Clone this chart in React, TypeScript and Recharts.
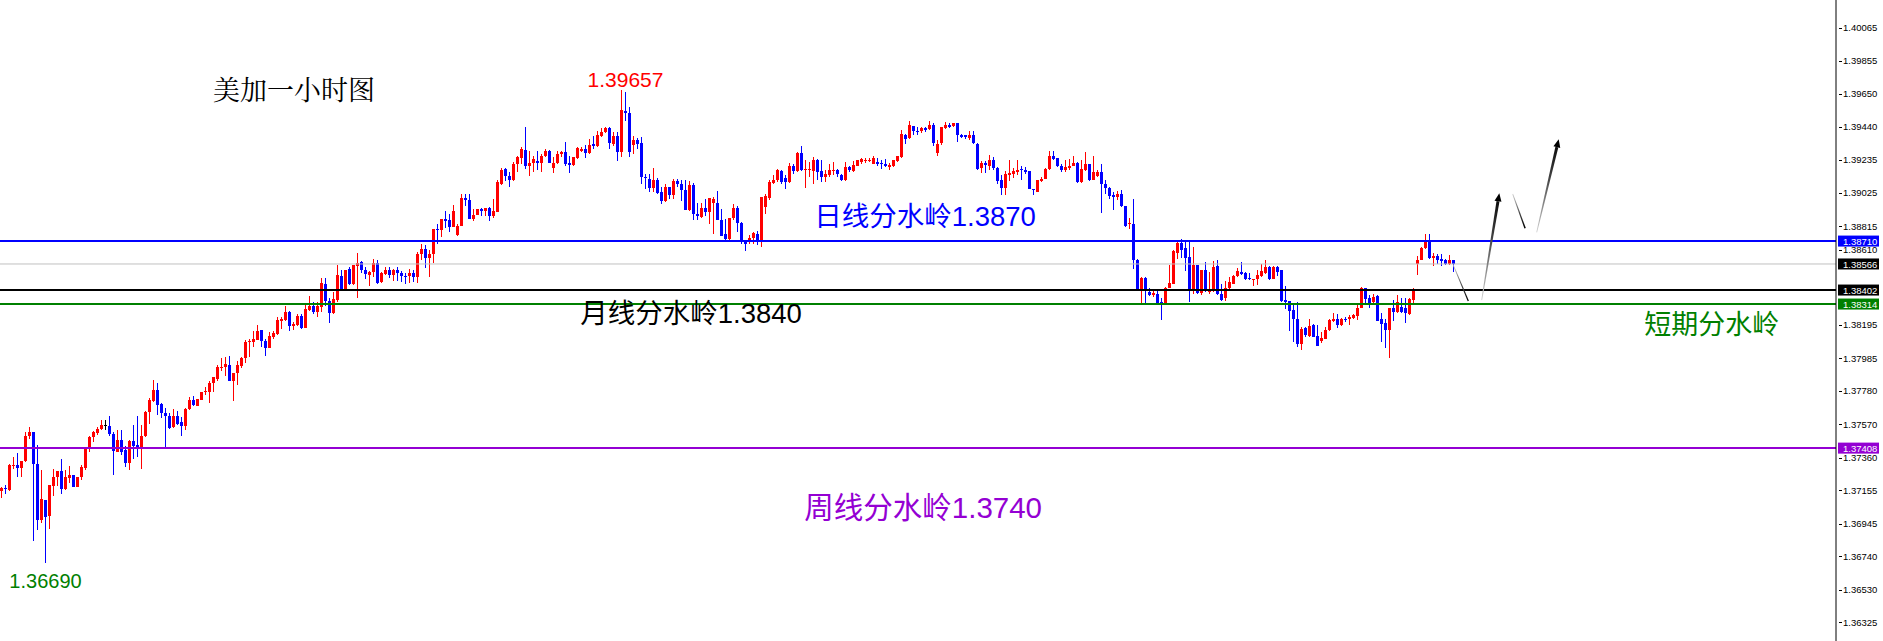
import { ComposedChart, Bar, XAxis, YAxis, ReferenceLine, ReferenceDot } from "recharts";

// USDCAD 1h candles (open / high / low / close)
const opens = [
  1.37139, 1.37158, 1.37143, 1.37298, 1.37304, 1.37281, 1.37329, 1.37482, 1.37509, 1.37308,
  1.36955, 1.37079, 1.36980, 1.37169, 1.37225, 1.37267, 1.37152, 1.37221, 1.37242, 1.37164,
  1.37225, 1.37286, 1.37409, 1.37478, 1.37503, 1.37528, 1.37553, 1.37549, 1.37499, 1.37386,
  1.37461, 1.37394, 1.37315, 1.37455, 1.37430, 1.37402, 1.37482, 1.37632, 1.37706, 1.37774,
  1.37687, 1.37628, 1.37611, 1.37538, 1.37607, 1.37570, 1.37545, 1.37653, 1.37712, 1.37674,
  1.37712, 1.37758, 1.37764, 1.37816, 1.37843, 1.37915, 1.37915, 1.37931, 1.37827, 1.37879,
  1.37927, 1.37973, 1.38073, 1.38077, 1.38088, 1.38151, 1.38084, 1.38040, 1.38105, 1.38125,
  1.38209, 1.38213, 1.38266, 1.38178, 1.38182, 1.38240, 1.38165, 1.38276, 1.38301, 1.38266,
  1.38293, 1.38443, 1.38335, 1.38255, 1.38339, 1.38491, 1.38408, 1.38533, 1.38439, 1.38552,
  1.38577, 1.38527, 1.38495, 1.38516, 1.38569, 1.38454, 1.38506, 1.38531, 1.38495, 1.38531,
  1.38512, 1.38493, 1.38491, 1.38512, 1.38485, 1.38627, 1.38663, 1.38604, 1.38627, 1.38788,
  1.38782, 1.38847, 1.38840, 1.38799, 1.38746, 1.38803, 1.38982, 1.38970, 1.38847, 1.38872,
  1.38909, 1.38899, 1.38920, 1.38865, 1.38892, 1.39066, 1.39164, 1.39118, 1.39091, 1.39196,
  1.39233, 1.39285, 1.39179, 1.39200, 1.39216, 1.39200, 1.39248, 1.39279, 1.39170, 1.39200,
  1.39258, 1.39269, 1.39200, 1.39189, 1.39233, 1.39279, 1.39290, 1.39262, 1.39321, 1.39310,
  1.39373, 1.39394, 1.39419, 1.39321, 1.39373, 1.39269, 1.39530, 1.39515, 1.39317, 1.39348,
  1.39325, 1.39116, 1.39101, 1.39043, 1.39097, 1.39018, 1.38961, 1.39053, 1.38997, 1.39085,
  1.39070, 1.39032, 1.38903, 1.39064, 1.38878, 1.38861, 1.38918, 1.38892, 1.38949, 1.38951,
  1.38844, 1.38752, 1.38721, 1.38855, 1.38918, 1.38824, 1.38705, 1.38705, 1.38732, 1.38757,
  1.38705, 1.38924, 1.38983, 1.39075, 1.39091, 1.39150, 1.39108, 1.39081, 1.39185, 1.39150,
  1.39265, 1.39158, 1.39154, 1.39150, 1.39221, 1.39148, 1.39112, 1.39123, 1.39150, 1.39158,
  1.39123, 1.39091, 1.39175, 1.39150, 1.39185, 1.39206, 1.39217, 1.39217, 1.39196, 1.39206,
  1.39202, 1.39196, 1.39175, 1.39185, 1.39213, 1.39238, 1.39378, 1.39357, 1.39432, 1.39405,
  1.39401, 1.39422, 1.39415, 1.39443, 1.39263, 1.39326, 1.39422, 1.39443, 1.39436, 1.39451,
  1.39378, 1.39374, 1.39359, 1.39374, 1.39321, 1.39169, 1.39200, 1.39185, 1.39217, 1.39171,
  1.39091, 1.39043, 1.39127, 1.39133, 1.39143, 1.39164, 1.39160, 1.39148, 1.39039, 1.39018,
  1.39087, 1.39102, 1.39164, 1.39242, 1.39231, 1.39185, 1.39154, 1.39171, 1.39181, 1.39202,
  1.39081, 1.39154, 1.39192, 1.39095, 1.39118, 1.39143, 1.39070, 1.39045, 1.38997, 1.38987,
  1.39008, 1.38928, 1.38820, 1.38820, 1.38594, 1.38408, 1.38479, 1.38391, 1.38374, 1.38376,
  1.38324, 1.38314, 1.38416, 1.38443, 1.38636, 1.38700, 1.38667, 1.38611, 1.38395, 1.38558,
  1.38381, 1.38527, 1.38391, 1.38402, 1.38552, 1.38376, 1.38355, 1.38412, 1.38443, 1.38489,
  1.38516, 1.38510, 1.38478, 1.38470, 1.38470, 1.38491, 1.38510, 1.38547, 1.38470, 1.38547,
  1.38527, 1.38338, 1.38332, 1.38276, 1.38219, 1.38063, 1.38161, 1.38113, 1.38182, 1.38113,
  1.38081, 1.38094, 1.38150, 1.38209, 1.38223, 1.38182, 1.38223, 1.38217, 1.38228, 1.38240,
  1.38286, 1.38418, 1.38349, 1.38328, 1.38363, 1.38219, 1.38192, 1.38150, 1.38292, 1.38265,
  1.38297, 1.38286, 1.38249, 1.38338, 1.38568, 1.38593, 1.38669, 1.38710, 1.38606, 1.38614,
  1.38595, 1.38593, 1.38568, 1.38589,
];

const highs = [
  1.37164, 1.37175, 1.37311, 1.37352, 1.37377, 1.37329, 1.37507, 1.37538, 1.37509, 1.37430,
  1.37269, 1.37079, 1.37173, 1.37277, 1.37267, 1.37342, 1.37273, 1.37298, 1.37242, 1.37225,
  1.37304, 1.37415, 1.37486, 1.37513, 1.37540, 1.37582, 1.37586, 1.37607, 1.37507, 1.37524,
  1.37524, 1.37419, 1.37461, 1.37555, 1.37607, 1.37555, 1.37643, 1.37722, 1.37837, 1.37816,
  1.37691, 1.37660, 1.37628, 1.37653, 1.37639, 1.37603, 1.37660, 1.37729, 1.37733, 1.37716,
  1.37764, 1.37795, 1.37833, 1.37858, 1.37931, 1.37973, 1.37984, 1.37988, 1.37883, 1.37958,
  1.37979, 1.38088, 1.38092, 1.38146, 1.38182, 1.38151, 1.38092, 1.38140, 1.38146, 1.38230,
  1.38234, 1.38301, 1.38272, 1.38203, 1.38251, 1.38251, 1.38307, 1.38364, 1.38326, 1.38328,
  1.38475, 1.38475, 1.38355, 1.38391, 1.38558, 1.38527, 1.38531, 1.38544, 1.38558, 1.38638,
  1.38585, 1.38548, 1.38521, 1.38600, 1.38590, 1.38516, 1.38544, 1.38544, 1.38533, 1.38544,
  1.38521, 1.38510, 1.38537, 1.38527, 1.38642, 1.38690, 1.38688, 1.38652, 1.38788, 1.38819,
  1.38851, 1.38897, 1.38882, 1.38934, 1.38815, 1.39008, 1.39008, 1.39003, 1.38909, 1.38909,
  1.38920, 1.38916, 1.38924, 1.38976, 1.39091, 1.39168, 1.39170, 1.39143, 1.39206, 1.39248,
  1.39300, 1.39430, 1.39279, 1.39248, 1.39279, 1.39258, 1.39290, 1.39283, 1.39237, 1.39275,
  1.39279, 1.39336, 1.39248, 1.39241, 1.39300, 1.39300, 1.39315, 1.39352, 1.39373, 1.39405,
  1.39419, 1.39425, 1.39425, 1.39398, 1.39394, 1.39657, 1.39650, 1.39551, 1.39373, 1.39356,
  1.39363, 1.39133, 1.39133, 1.39168, 1.39106, 1.39053, 1.39066, 1.39053, 1.39099, 1.39099,
  1.39091, 1.39095, 1.39087, 1.39074, 1.38949, 1.38949, 1.38976, 1.38980, 1.38986, 1.39022,
  1.38913, 1.38851, 1.38855, 1.38941, 1.38928, 1.38830, 1.38719, 1.38747, 1.38767, 1.38772,
  1.38987, 1.39004, 1.39091, 1.39123, 1.39165, 1.39158, 1.39123, 1.39200, 1.39196, 1.39269,
  1.39311, 1.39217, 1.39206, 1.39238, 1.39227, 1.39221, 1.39158, 1.39196, 1.39206, 1.39165,
  1.39129, 1.39206, 1.39179, 1.39211, 1.39221, 1.39234, 1.39234, 1.39234, 1.39248, 1.39234,
  1.39217, 1.39227, 1.39200, 1.39221, 1.39248, 1.39409, 1.39384, 1.39468, 1.39436, 1.39426,
  1.39430, 1.39426, 1.39463, 1.39451, 1.39346, 1.39430, 1.39457, 1.39451, 1.39455, 1.39455,
  1.39384, 1.39378, 1.39405, 1.39405, 1.39326, 1.39212, 1.39212, 1.39254, 1.39238, 1.39175,
  1.39123, 1.39150, 1.39217, 1.39171, 1.39217, 1.39179, 1.39175, 1.39150, 1.39039, 1.39095,
  1.39116, 1.39171, 1.39275, 1.39279, 1.39233, 1.39192, 1.39217, 1.39227, 1.39248, 1.39206,
  1.39221, 1.39269, 1.39196, 1.39242, 1.39158, 1.39192, 1.39091, 1.39049, 1.39018, 1.39024,
  1.39033, 1.38930, 1.38857, 1.38976, 1.38600, 1.38481, 1.38485, 1.38412, 1.38402, 1.38406,
  1.38349, 1.38422, 1.38558, 1.38652, 1.38719, 1.38725, 1.38719, 1.38715, 1.38673, 1.38558,
  1.38531, 1.38579, 1.38517, 1.38585, 1.38590, 1.38439, 1.38460, 1.38481, 1.38495, 1.38541,
  1.38579, 1.38516, 1.38510, 1.38474, 1.38531, 1.38564, 1.38589, 1.38552, 1.38552, 1.38552,
  1.38527, 1.38428, 1.38332, 1.38307, 1.38328, 1.38171, 1.38167, 1.38223, 1.38186, 1.38182,
  1.38140, 1.38171, 1.38219, 1.38255, 1.38251, 1.38228, 1.38234, 1.38244, 1.38251, 1.38307,
  1.38422, 1.38418, 1.38370, 1.38376, 1.38370, 1.38259, 1.38223, 1.38292, 1.38338, 1.38370,
  1.38355, 1.38349, 1.38353, 1.38412, 1.38614, 1.38673, 1.38756, 1.38752, 1.38635, 1.38627,
  1.38627, 1.38600, 1.38621, 1.38593,
];

const lows = [
  1.37095, 1.37120, 1.37137, 1.37277, 1.37227, 1.37227, 1.37319, 1.37465, 1.36823, 1.36890,
  1.36938, 1.36688, 1.36901, 1.37106, 1.37169, 1.37122, 1.37143, 1.37189, 1.37164, 1.37164,
  1.37210, 1.37273, 1.37381, 1.37446, 1.37492, 1.37524, 1.37520, 1.37486, 1.37237, 1.37381,
  1.37367, 1.37288, 1.37269, 1.37342, 1.37352, 1.37279, 1.37478, 1.37561, 1.37697, 1.37614,
  1.37597, 1.37405, 1.37530, 1.37534, 1.37555, 1.37482, 1.37524, 1.37645, 1.37670, 1.37670,
  1.37712, 1.37739, 1.37691, 1.37764, 1.37827, 1.37894, 1.37862, 1.37827, 1.37705, 1.37802,
  1.37910, 1.37946, 1.37979, 1.38042, 1.38088, 1.38046, 1.37988, 1.38040, 1.38092, 1.38119,
  1.38157, 1.38209, 1.38146, 1.38151, 1.38176, 1.38157, 1.38161, 1.38272, 1.38249, 1.38234,
  1.38261, 1.38303, 1.38192, 1.38251, 1.38324, 1.38401, 1.38408, 1.38433, 1.38433, 1.38349,
  1.38510, 1.38470, 1.38426, 1.38481, 1.38443, 1.38447, 1.38495, 1.38479, 1.38460, 1.38460,
  1.38454, 1.38443, 1.38447, 1.38454, 1.38447, 1.38590, 1.38541, 1.38485, 1.38573, 1.38694,
  1.38736, 1.38794, 1.38767, 1.38799, 1.38740, 1.38803, 1.38928, 1.38847, 1.38834, 1.38872,
  1.38865, 1.38865, 1.38834, 1.38857, 1.38892, 1.39060, 1.39087, 1.39049, 1.39087, 1.39143,
  1.39196, 1.39164, 1.39122, 1.39143, 1.39154, 1.39143, 1.39237, 1.39200, 1.39137, 1.39196,
  1.39237, 1.39185, 1.39137, 1.39185, 1.39227, 1.39269, 1.39231, 1.39258, 1.39290, 1.39304,
  1.39363, 1.39388, 1.39290, 1.39310, 1.39216, 1.39237, 1.39467, 1.39237, 1.39258, 1.39290,
  1.39070, 1.39039, 1.39018, 1.39018, 1.39007, 1.38945, 1.38955, 1.38972, 1.38976, 1.39049,
  1.38961, 1.38903, 1.38899, 1.38840, 1.38840, 1.38857, 1.38865, 1.38815, 1.38752, 1.38840,
  1.38742, 1.38715, 1.38711, 1.38840, 1.38767, 1.38694, 1.38648, 1.38694, 1.38694, 1.38684,
  1.38673, 1.38882, 1.38970, 1.39071, 1.39081, 1.39071, 1.39035, 1.39075, 1.39133, 1.39144,
  1.39148, 1.39043, 1.39112, 1.39066, 1.39091, 1.39081, 1.39081, 1.39112, 1.39123, 1.39112,
  1.39087, 1.39087, 1.39144, 1.39144, 1.39181, 1.39196, 1.39202, 1.39206, 1.39192, 1.39181,
  1.39165, 1.39175, 1.39154, 1.39175, 1.39206, 1.39234, 1.39321, 1.39353, 1.39380, 1.39380,
  1.39390, 1.39394, 1.39409, 1.39305, 1.39242, 1.39317, 1.39415, 1.39420, 1.39426, 1.39332,
  1.39359, 1.39353, 1.39346, 1.39321, 1.39154, 1.39137, 1.39137, 1.39158, 1.39158, 1.39070,
  1.38997, 1.38997, 1.39087, 1.39108, 1.39123, 1.39095, 1.39133, 1.39035, 1.38997, 1.39018,
  1.39081, 1.39102, 1.39158, 1.39221, 1.39175, 1.39143, 1.39143, 1.39158, 1.39179, 1.39074,
  1.39074, 1.39150, 1.39087, 1.39091, 1.39112, 1.38886, 1.39008, 1.38976, 1.38903, 1.38966,
  1.38924, 1.38799, 1.38788, 1.38537, 1.38402, 1.38318, 1.38314, 1.38366, 1.38356, 1.38312,
  1.38213, 1.38312, 1.38412, 1.38439, 1.38600, 1.38606, 1.38523, 1.38328, 1.38376, 1.38376,
  1.38374, 1.38391, 1.38376, 1.38391, 1.38370, 1.38335, 1.38334, 1.38397, 1.38439, 1.38481,
  1.38495, 1.38464, 1.38464, 1.38428, 1.38432, 1.38485, 1.38501, 1.38464, 1.38470, 1.38489,
  1.38328, 1.38280, 1.38144, 1.38077, 1.38042, 1.38025, 1.38104, 1.38109, 1.38104, 1.38052,
  1.38071, 1.38094, 1.38146, 1.38202, 1.38161, 1.38175, 1.38202, 1.38182, 1.38223, 1.38213,
  1.38286, 1.38307, 1.38286, 1.38318, 1.38209, 1.38077, 1.38040, 1.37973, 1.38209, 1.38255,
  1.38255, 1.38196, 1.38244, 1.38322, 1.38495, 1.38589, 1.38662, 1.38600, 1.38554, 1.38568,
  1.38554, 1.38558, 1.38562, 1.38516,
];

const closes = [
  1.37156, 1.37152, 1.37304, 1.37304, 1.37281, 1.37329, 1.37486, 1.37509, 1.37308, 1.36955,
  1.37085, 1.36974, 1.37173, 1.37229, 1.37267, 1.37152, 1.37225, 1.37242, 1.37164, 1.37225,
  1.37290, 1.37415, 1.37480, 1.37507, 1.37530, 1.37553, 1.37553, 1.37497, 1.37388, 1.37461,
  1.37386, 1.37315, 1.37455, 1.37423, 1.37409, 1.37486, 1.37637, 1.37712, 1.37774, 1.37680,
  1.37628, 1.37607, 1.37534, 1.37607, 1.37561, 1.37545, 1.37655, 1.37712, 1.37676, 1.37716,
  1.37760, 1.37770, 1.37820, 1.37858, 1.37921, 1.37921, 1.37938, 1.37827, 1.37879, 1.37931,
  1.37977, 1.38077, 1.38084, 1.38094, 1.38146, 1.38084, 1.38040, 1.38113, 1.38134, 1.38213,
  1.38220, 1.38266, 1.38178, 1.38188, 1.38238, 1.38161, 1.38280, 1.38301, 1.38266, 1.38301,
  1.38447, 1.38335, 1.38259, 1.38343, 1.38495, 1.38408, 1.38527, 1.38439, 1.38558, 1.38573,
  1.38527, 1.38500, 1.38518, 1.38573, 1.38447, 1.38510, 1.38531, 1.38495, 1.38531, 1.38510,
  1.38491, 1.38489, 1.38512, 1.38485, 1.38631, 1.38663, 1.38604, 1.38631, 1.38788, 1.38784,
  1.38847, 1.38836, 1.38799, 1.38897, 1.38803, 1.38982, 1.38966, 1.38847, 1.38876, 1.38909,
  1.38899, 1.38916, 1.38865, 1.38897, 1.39080, 1.39160, 1.39118, 1.39091, 1.39196, 1.39237,
  1.39290, 1.39179, 1.39204, 1.39223, 1.39200, 1.39248, 1.39279, 1.39200, 1.39200, 1.39258,
  1.39269, 1.39196, 1.39191, 1.39237, 1.39294, 1.39290, 1.39262, 1.39315, 1.39310, 1.39377,
  1.39398, 1.39419, 1.39327, 1.39373, 1.39269, 1.39536, 1.39515, 1.39269, 1.39346, 1.39321,
  1.39112, 1.39106, 1.39043, 1.39097, 1.39012, 1.38961, 1.39053, 1.38997, 1.39087, 1.39066,
  1.39032, 1.38903, 1.39064, 1.38878, 1.38865, 1.38918, 1.38892, 1.38980, 1.38976, 1.38844,
  1.38742, 1.38721, 1.38855, 1.38918, 1.38824, 1.38705, 1.38690, 1.38732, 1.38763, 1.38705,
  1.38987, 1.38993, 1.39081, 1.39091, 1.39154, 1.39081, 1.39081, 1.39185, 1.39150, 1.39265,
  1.39158, 1.39165, 1.39165, 1.39217, 1.39144, 1.39112, 1.39129, 1.39154, 1.39158, 1.39133,
  1.39091, 1.39175, 1.39154, 1.39190, 1.39217, 1.39227, 1.39221, 1.39221, 1.39234, 1.39192,
  1.39196, 1.39181, 1.39190, 1.39217, 1.39242, 1.39384, 1.39353, 1.39443, 1.39401, 1.39394,
  1.39422, 1.39409, 1.39443, 1.39326, 1.39321, 1.39426, 1.39443, 1.39426, 1.39451, 1.39374,
  1.39367, 1.39363, 1.39374, 1.39326, 1.39165, 1.39200, 1.39189, 1.39217, 1.39169, 1.39087,
  1.39043, 1.39129, 1.39137, 1.39150, 1.39158, 1.39154, 1.39143, 1.39039, 1.39029, 1.39091,
  1.39102, 1.39164, 1.39248, 1.39227, 1.39179, 1.39154, 1.39175, 1.39185, 1.39202, 1.39081,
  1.39164, 1.39192, 1.39091, 1.39143, 1.39143, 1.39066, 1.39045, 1.38991, 1.38987, 1.39008,
  1.38928, 1.38805, 1.38826, 1.38594, 1.38408, 1.38475, 1.38402, 1.38374, 1.38381, 1.38318,
  1.38314, 1.38418, 1.38447, 1.38646, 1.38700, 1.38656, 1.38606, 1.38395, 1.38558, 1.38381,
  1.38527, 1.38395, 1.38402, 1.38548, 1.38376, 1.38339, 1.38412, 1.38453, 1.38491, 1.38520,
  1.38501, 1.38470, 1.38470, 1.38474, 1.38495, 1.38522, 1.38547, 1.38470, 1.38547, 1.38516,
  1.38334, 1.38328, 1.38269, 1.38219, 1.38063, 1.38157, 1.38119, 1.38175, 1.38109, 1.38052,
  1.38098, 1.38150, 1.38213, 1.38223, 1.38182, 1.38223, 1.38217, 1.38234, 1.38244, 1.38292,
  1.38418, 1.38343, 1.38318, 1.38359, 1.38209, 1.38188, 1.38150, 1.38292, 1.38265, 1.38324,
  1.38265, 1.38259, 1.38345, 1.38397, 1.38593, 1.38669, 1.38710, 1.38606, 1.38614, 1.38589,
  1.38585, 1.38568, 1.38593, 1.38566,
];

// right price scale labels
const priceTicks = [
  1.40065, 1.39855, 1.3965, 1.3944, 1.39235, 1.39025, 1.38815, 1.3861,
  1.38195, 1.37985, 1.3778, 1.3757, 1.3736, 1.37155, 1.36945, 1.3674, 1.3653, 1.36325,
];

// horizontal levels
const dailyLevel = 1.3871;
const lastPrice = 1.38566;
const monthlyLevel = 1.38402;
const shortLevel = 1.38314;
const weeklyLevel = 1.37408;

const chartHigh = 1.39657;
const chartLow = 1.3669;

// hand drawn forecast path (bar index, price)
const pathDown1 = [[362.95, 1.38559], [366.7, 1.38333]];
const pathUp1 = [[370.05, 1.38339], [374.45, 1.3901]];
const pathDown2 = [[377.8, 1.39006], [380.9, 1.3879]];
const pathUp2 = [[383.8, 1.38765], [389.3, 1.3935]];

const n = Math.min(opens.length, highs.length, lows.length, closes.length);
const data = closes.slice(0, n).map((c, i) => ({
  i,
  o: opens[i],
  h: highs[i],
  l: lows[i],
  c,
  range: [lows[i], highs[i]],
}));

const SLOTS = 459;
const UP = "#ff0000";
const DOWN = "#0000ff";
const LATIN = "'Liberation Sans', Arial, sans-serif";
const CJK = "'Liberation Sans', Arial, 'Noto Sans CJK SC', sans-serif";

function Candle(props: any) {
  const { x, y, width, height, payload } = props;
  if (!payload || x == null) return null;
  const top = Math.min(y, y + height);
  const bot = Math.max(y, y + height);
  const span = payload.h - payload.l;
  const py = (v: number) => (span > 0 ? top + ((payload.h - v) / span) * (bot - top) : top);
  const cx = x + width / 2;
  const color = payload.c > payload.o ? UP : payload.c < payload.o ? DOWN : "#000";
  const bTop = Math.min(py(payload.o), py(payload.c));
  const bH = Math.max(1, Math.abs(py(payload.o) - py(payload.c)));
  return (
    <g shapeRendering="crispEdges">
      <line x1={cx} x2={cx} y1={top} y2={bot} stroke={color} strokeWidth={1} />
      <rect x={cx - 1.5} y={bTop} width={3} height={bH} fill={color} />
    </g>
  );
}

function PriceTick(props: any) {
  const { x, y, payload } = props;
  // the 1.38610 label sits just above the live price tag in the terminal
  const yy = y + (payload.value === 1.3861 ? -7 : 2);
  return (
    <g>
      <line x1={x + 3} x2={x + 6} y1={Math.round(yy) + 0.5} y2={Math.round(yy) + 0.5} stroke="#000" />
      <text x={x + 7} y={yy} dominantBaseline="central" fontSize={9.5} fontFamily={LATIN} fill="#000">
        {Number(payload.value).toFixed(5)}
      </text>
    </g>
  );
}

function PriceTag(props: any) {
  const { viewBox, text, fill } = props;
  if (!viewBox) return null;
  const x = viewBox.x + viewBox.width + 2;
  const y = viewBox.y;
  return (
    <g>
      <rect x={x} y={y - 5.5} width={41} height={11} fill={fill} />
      <text x={x + 5} y={y + 0.5} dominantBaseline="central" fontSize={9.5} fontFamily={LATIN} fill="#fff">
        {text}
      </text>
    </g>
  );
}

function Arrow(props: any) {
  const { x1, y1, x2, y2, w0, w1, head, gid } = props;
  if ([x1, y1, x2, y2].some((v) => v == null || isNaN(v))) return null;
  const dx = x2 - x1;
  const dy = y2 - y1;
  const len = Math.hypot(dx, dy) || 1;
  const ux = dx / len;
  const uy = dy / len;
  const nx = -uy;
  const ny = ux;
  const hl = head ? 8 : 0;
  const ex = x2 - ux * hl;
  const ey = y2 - uy * hl;
  const body = [
    [x1 + (nx * w0) / 2, y1 + (ny * w0) / 2],
    [ex + (nx * w1) / 2, ey + (ny * w1) / 2],
    [ex - (nx * w1) / 2, ey - (ny * w1) / 2],
    [x1 - (nx * w0) / 2, y1 - (ny * w0) / 2],
  ];
  const tip = [
    [x2, y2],
    [ex + nx * 3.5, ey + ny * 3.5],
    [ex - nx * 3.5, ey - ny * 3.5],
  ];
  const pts = (a: number[][]) => a.map((p) => p.join(",")).join(" ");
  return (
    <g>
      <defs>
        <linearGradient id={gid} gradientUnits="userSpaceOnUse" x1={x1} y1={y1} x2={x2} y2={y2}>
          <stop offset="0" stopColor="#d0d0d0" />
          <stop offset="0.6" stopColor="#404040" />
          <stop offset="1" stopColor="#000" />
        </linearGradient>
      </defs>
      <polygon points={pts(body)} fill={`url(#${gid})`} />
      {head && <polygon points={pts(tip)} fill="#000" />}
    </g>
  );
}

function seg(p: number[][]) {
  return [
    { x: p[0][0], y: p[0][1] },
    { x: p[1][0], y: p[1][1] },
  ];
}

function note(text: string, color: string, size: number, family: string, anchor = "start") {
  return (p: any) => (
    <text x={p.cx} y={p.cy} fill={color} fontSize={size} fontFamily={family} textAnchor={anchor}>
      {text}
    </text>
  );
}

export default function App() {
  return (
    <div style={{ width: 1883, height: 641, background: "#fff" }}>
      <style>{"body{margin:0;background:#fff}"}</style>
      <ComposedChart width={1883} height={641} data={data} margin={{ top: 0, right: 0, bottom: 0, left: 0 }}>
        <XAxis dataKey="i" type="number" domain={[-0.375, SLOTS - 0.375]} hide allowDataOverflow />
        <YAxis
          orientation="right"
          width={47}
          type="number"
          domain={[1.36195, 1.40226]}
          allowDataOverflow
          ticks={priceTicks}
          interval={0}
          tickSize={0}
          tickMargin={0}
          tickLine={false}
          axisLine={{ stroke: "#000" }}
          tick={<PriceTick />}
        />
        <Bar dataKey="range" barSize={3} shape={<Candle />} isAnimationActive={false} />

        <ReferenceLine y={lastPrice} stroke="#c0c0c0" strokeWidth={1} label={<PriceTag text="1.38566" fill="#000" />} />
        <ReferenceLine y={dailyLevel} stroke="#0000ff" strokeWidth={2} label={<PriceTag text="1.38710" fill="#0000ff" />} />
        <ReferenceLine y={monthlyLevel} stroke="#000" strokeWidth={2} label={<PriceTag text="1.38402" fill="#000" />} />
        <ReferenceLine y={shortLevel} stroke="#008000" strokeWidth={2} label={<PriceTag text="1.38314" fill="#008000" />} />
        <ReferenceLine y={weeklyLevel} stroke="#9400d3" strokeWidth={2} label={<PriceTag text="1.37408" fill="#9400d3" />} />

        <ReferenceLine segment={seg(pathDown1)} ifOverflow="visible" shape={(p: any) => <Arrow {...p} w0={0.8} w1={1.3} gid="a1" />} />
        <ReferenceLine segment={seg(pathUp1)} ifOverflow="visible" shape={(p: any) => <Arrow {...p} w0={0.8} w1={3} head gid="a2" />} />
        <ReferenceLine segment={seg(pathDown2)} ifOverflow="visible" shape={(p: any) => <Arrow {...p} w0={0.8} w1={1.5} gid="a3" />} />
        <ReferenceLine segment={seg(pathUp2)} ifOverflow="visible" shape={(p: any) => <Arrow {...p} w0={0.8} w1={3} head gid="a4" />} />

        <ReferenceDot x={52.9} y={1.39597} r={0} ifOverflow="visible" shape={note("美加一小时图", "#000", 27, "'Noto Serif CJK SC', 'Noto Sans CJK SC', serif")} />
        <ReferenceDot x={156} y={1.39679} r={0} ifOverflow="visible" shape={note(chartHigh.toFixed(5), "#ff0000", 21, LATIN, "middle")} />
        <ReferenceDot x={11} y={1.36528} r={0} ifOverflow="visible" shape={note(chartLow.toFixed(5), "#008000", 20, LATIN, "middle")} />
        <ReferenceDot x={203.2} y={1.38805} r={0} ifOverflow="visible" shape={note("日线分水岭1.3870", "#0000ff", 27.5, CJK)} />
        <ReferenceDot x={144.7} y={1.38195} r={0} ifOverflow="visible" shape={note("月线分水岭1.3840", "#000", 27.5, CJK)} />
        <ReferenceDot x={200.7} y={1.36968} r={0} ifOverflow="visible" shape={note("周线分水岭1.3740", "#9400d3", 29.5, CJK)} />
        <ReferenceDot x={410.7} y={1.38125} r={0} ifOverflow="visible" shape={note("短期分水岭", "#008000", 27, CJK)} />
      </ComposedChart>
    </div>
  );
}
